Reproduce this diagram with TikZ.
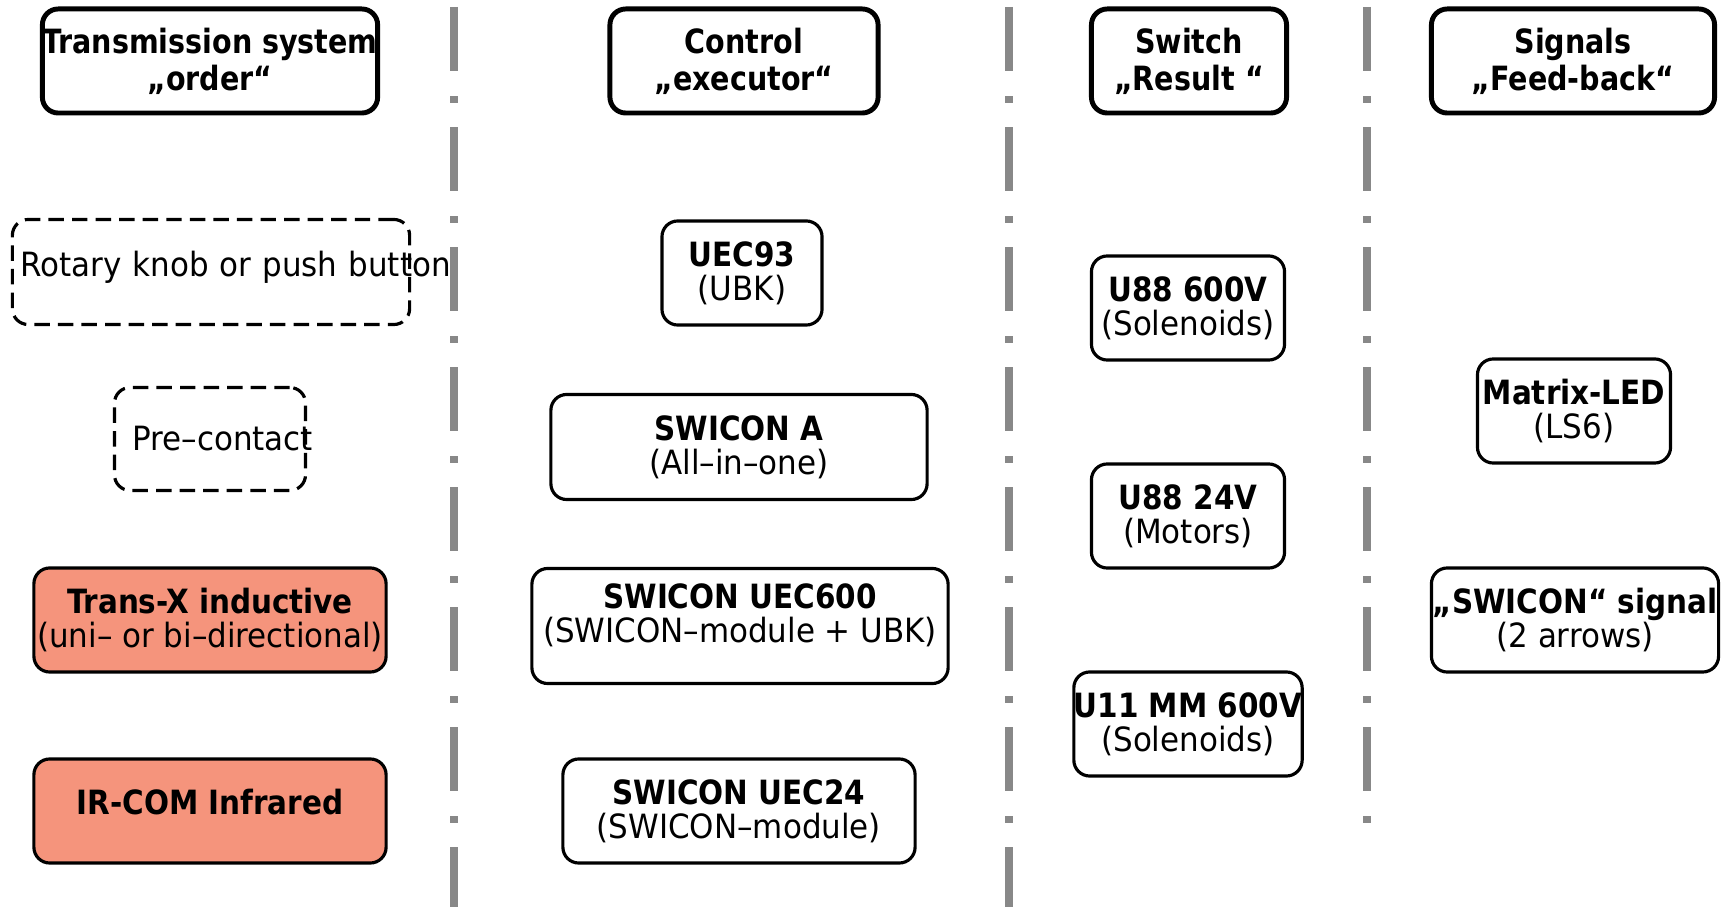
\documentclass[tikz,border=0pt]{standalone}
\usepackage{fontspec}
\setmainfont{DejaVu Sans Condensed}[UprightFeatures={FakeStretch=1.03},BoldFeatures={FakeStretch=0.98}]
\newfontfamily\headfont{DejaVu Sans Condensed}[FakeStretch=0.95]
\definecolor{salmon}{RGB}{245,148,124}
\definecolor{divgray}{RGB}{136,136,136}

\begin{document}
\begin{tikzpicture}[x=0.01cm,y=-0.01cm,%
    every node/.style={font=\fontsize{9.5}{9.6}\selectfont,align=center},%
    box/.style={draw,line width=0.9pt,rounded corners=4.5pt,%
      inner xsep=0pt,minimum height=1.04cm},%
    headbox/.style={box,line width=1.4pt,%
      font=\fontsize{9.5}{10.5}\selectfont\headfont\bfseries},%
    optbox/.style={box,dash pattern=on 4.4pt off 2.3pt,align=left},%
    irbox/.style={box,fill=salmon},%
    divider/.style={divgray,line width=2.3pt,%
      dash pattern=on 0.64cm off 0.25cm on 0.07cm off 0.24cm}]
  \useasboundingbox (0,0) rectangle (1727,907);%
  %
  \foreach \x/\yend in {454/907,1009/907,1367/823}%
  \draw[divider] (\x,7) -- (\x,\yend);%
  %
  \node[headbox,minimum width=3.33cm] (order) at (210,61) {Transmission system\\„order“};%
  \node[headbox,minimum width=2.68cm] (executor) at (744,61) {Control\\„executor“};%
  \node[headbox,minimum width=1.95cm] (result) at (1189,61) {Switch\\„Result “};%
  \node[headbox,minimum width=2.83cm] (feedback) at (1573,61) {Signals\\„Feed-back“};%
  %
  \node[optbox,minimum height=1.05cm,text width=3.81cm,inner xsep=0.08cm,text depth=4.5pt] (knob) at (211,272) {\mbox{Rotary knob or push button}};%
  \node[optbox,minimum height=1.03cm,text width=1.55cm,inner xsep=0.18cm] (precontact) at (210,439) {\mbox{Pre–contact}};%
  \node[irbox,minimum width=3.52cm] (transx) at (210,620) {\textbf{Trans-X inductive}\\(uni– or bi–directional)};%
  \node[irbox,minimum width=3.52cm,text depth=5pt] (ircom) at (210,811) {\textbf{IR-COM Infrared}};%
  %
  \node[box,minimum width=1.60cm] (uec93) at (742,273) {\textbf{UEC93}\\(UBK)};%
  \node[box,minimum width=3.76cm,minimum height=1.05cm] (swicona) at (739,447) {\textbf{SWICON A}\\(All–in–one)};%
  \node[box,minimum width=4.16cm,minimum height=1.15cm,text depth=7.5pt] (uec600) at (740,626) {\textbf{SWICON UEC600}\\(SWICON–module + UBK)};%
  \node[box,minimum width=3.52cm] (uec24) at (739,811) {\textbf{SWICON UEC24}\\(SWICON–module)};%
  %
  \node[box,minimum width=1.93cm] (u88hv) at (1188,308) {\textbf{U88 600V}\\(Solenoids)};%
  \node[box,minimum width=1.93cm] (u88lv) at (1188,516) {\textbf{U88 24V}\\(Motors)};%
  \node[box,minimum width=2.25cm] (u11) at (1188,724) {\textbf{U11 MM 600V}\\(Solenoids)};%
  %
  \node[box,minimum width=1.93cm] (matrix) at (1574,411) {\textbf{Matrix-LED}\\(LS6)};%
  \node[box,minimum width=2.87cm] (signal) at (1575,620) {\textbf{„SWICON“ signal}\\(2 arrows)};%
\end{tikzpicture}
\end{document}
